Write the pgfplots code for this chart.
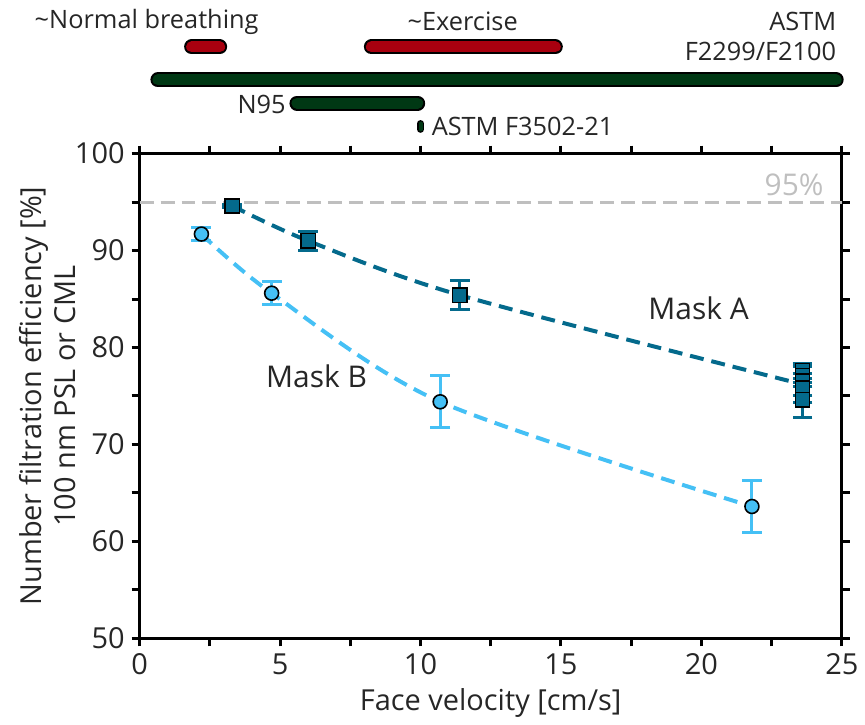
\documentclass[border=0pt]{standalone}
\usepackage{fontspec}
\setmainfont{Open Sans}
\usepackage{pgfplots}
\pgfplotsset{compat=1.18}
\definecolor{maskA}{HTML}{046A8C}
\definecolor{maskB}{HTML}{45C0F5}
\definecolor{barred}{HTML}{A8000F}
\definecolor{bargreen}{HTML}{003814}
\definecolor{txt}{HTML}{262626}
\definecolor{refgray}{HTML}{BFBFBF}

\newcommand{\rangebar}[4]{% xmin, xmax, y, colour
  \addplot[line width=7.5pt, line cap=round, black, forget plot] coordinates {(#1,#3) (#2,#3)};
  \addplot[line width=5.5pt, line cap=round, #4, forget plot] coordinates {(#1,#3) (#2,#3)};
}
\newcommand{\toplabel}{\fontsize{12.7}{15}\selectfont}
\newcommand{\masklabel}{\fontsize{15}{17}\selectfont}

\begin{document}
\begin{tikzpicture}
\begin{axis}[
  width=352pt, height=243pt, scale only axis,
  xmin=0, xmax=25, ymin=50, ymax=100,
  xtick={0,5,...,25}, minor xtick={2.5,7.5,...,22.5},
  ytick={50,60,...,100}, minor ytick={55,65,...,95},
  tick align=outside,
  major tick length=4pt, minor tick length=4pt,
  every tick/.style={black, line width=1.5pt},
  every minor tick/.style={black, line width=1.5pt},
  axis line style={line width=1.5pt},
  clip=false,
  /pgf/number format/assume math mode=true,
  tick label style={font=\fontsize{14.5}{16}\selectfont, text=txt},
  label style={font=\fontsize{14.5}{17.5}\selectfont, text=txt},
  xlabel={Face velocity [cm/s]},
  ylabel={Number filtration efficiency [\%]\\100 nm PSL or CML},
  ylabel style={align=center},
  ylabel shift=-7.5pt,
]
% 95% reference line
\addplot[refgray, line width=1.5pt, dash pattern=on 7pt off 3.5pt] coordinates {(0,95) (25,95)};
\node[refgray, font=\masklabel, anchor=south] at (axis cs:23.3,94.9) {95\%};

% Mask A
\addplot[maskA, line width=2pt, dash pattern=on 7pt off 4pt, smooth] coordinates {
  (3.3,94.6) (6.0,91.0) (11.4,85.4) (23.6,76.2)};
\addplot[only marks, mark=square*, mark size=3.6pt,
  mark options={fill=maskA, draw=black, line width=0.8pt},
  error bars/.cd, y dir=both, y explicit,
  error bar style={maskA, line width=1.5pt},
  error mark options={rotate=90, mark size=5pt, line width=1.5pt, maskA}]
  coordinates {
  (3.3,94.6) +- (0,0.2)
  (6.0,91.0) +- (0,1.0)
  (11.4,85.4) +- (0,1.5)
  (23.6,77.6) +- (0,0.8)
  (23.6,77.1) +- (0,1.1)
  (23.6,76.5) +- (0,1.5)
  (23.6,75.8) +- (0,1.5)
  (23.6,74.6) +- (0,1.8)
};

% Mask B
\addplot[maskB, line width=2pt, dash pattern=on 7pt off 4pt, smooth] coordinates {
  (2.2,91.7) (4.7,85.6) (10.7,74.4) (21.8,63.6)};
\addplot[only marks, mark=*, mark size=3.5pt,
  mark options={fill=maskB, draw=black, line width=0.8pt},
  error bars/.cd, y dir=both, y explicit,
  error bar style={maskB, line width=1.5pt},
  error mark options={rotate=90, mark size=5pt, line width=1.5pt, maskB}]
  coordinates {
  (2.2,91.7) +- (0,0.7)
  (4.7,85.6) +- (0,1.2)
  (10.7,74.4) +- (0,2.7)
  (21.8,63.6) +- (0,2.7)
};

\node[txt, font=\masklabel] at (axis cs:19.9,84.0) {Mask A};
\node[txt, font=\masklabel] at (axis cs:6.3,77.0) {Mask B};

% velocity ranges above the axis
\rangebar{1.85}{2.85}{111.0}{barred}
\rangebar{8.25}{14.8}{111.0}{barred}
\rangebar{0.65}{24.8}{107.6}{bargreen}
\rangebar{5.6}{9.9}{105.2}{bargreen}
\addplot[line width=3.5pt, line cap=round, black, forget plot] coordinates {(10.0,102.5) (10.0,103.1)};
\addplot[line width=2pt, line cap=round, bargreen, forget plot] coordinates {(10.0,102.5) (10.0,103.1)};

\node[txt, font=\toplabel] at (axis cs:0.25,113.6) {\textasciitilde Normal breathing};
\node[txt, font=\toplabel] at (axis cs:11.5,113.6) {\textasciitilde Exercise};
\node[txt, font=\toplabel, align=right, anchor=east] at (axis cs:25.05,112.1) {ASTM\\F2299/F2100};
\node[txt, font=\toplabel, anchor=east] at (axis cs:5.45,105.1) {N95};
\node[txt, font=\toplabel, anchor=west] at (axis cs:10.15,102.8) {ASTM F3502-21};

% page extent
\path (rel axis cs:0,0) ++(-70pt,-43pt) coordinate (bbsw);
\path (rel axis cs:1,1) ++(10.5pt,77pt) coordinate (bbne);
\end{axis}
\useasboundingbox (bbsw) rectangle (bbne);
\end{tikzpicture}
\end{document}
